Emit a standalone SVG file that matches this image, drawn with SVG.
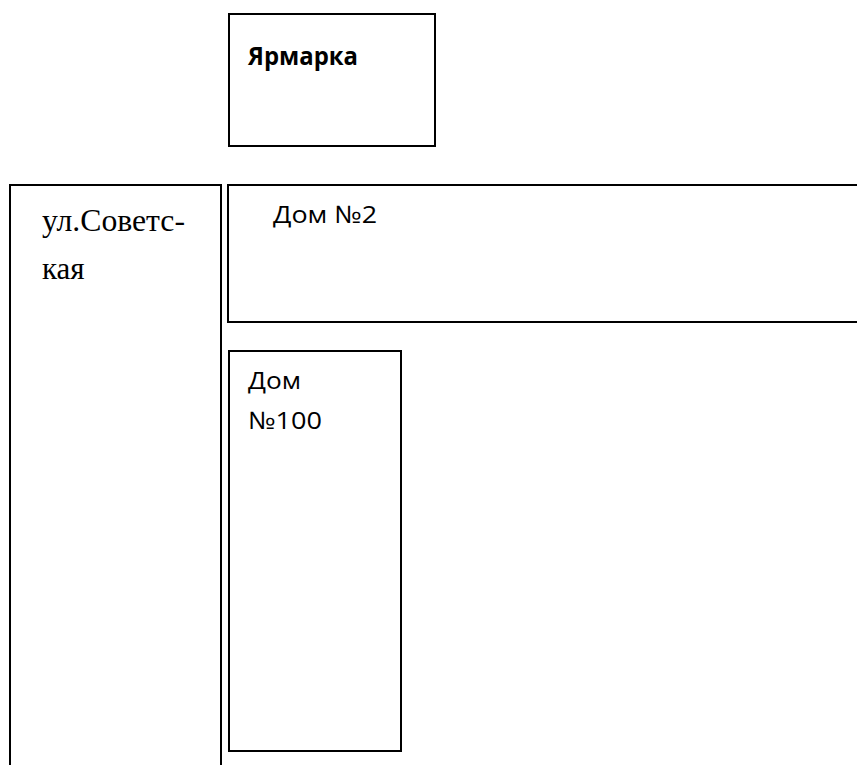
<svg xmlns="http://www.w3.org/2000/svg" width="857" height="765" viewBox="0 0 857 765">
<style>
.box{fill:#fff;stroke:#000;stroke-width:2}
.cal{font-family:"Open Sans","Noto Sans","Liberation Sans",sans-serif;fill:#000}
.tim{font-family:"Liberation Serif","DejaVu Serif",serif;fill:#000}
</style>
<rect x="0" y="0" width="857" height="765" fill="#fff"/>
<g id="yarmarka">
<rect class="box" x="229" y="14" width="206" height="132"/>
<text class="cal" x="248" y="65" font-size="25" font-weight="bold" textLength="110" lengthAdjust="spacingAndGlyphs">Ярмарка</text>
</g>
<g id="street">
<path class="box" d="M10,766 V185 H221 V766"/>
<text class="tim" x="42" y="231" font-size="31" textLength="143" lengthAdjust="spacingAndGlyphs">ул.Советс-</text>
<text class="tim" x="42" y="279" font-size="31">кая</text>
</g>
<g id="dom2">
<path class="box" d="M858,185 H228 V322 H858" stroke-width="2.5"/>
<text class="cal" x="273" y="223" font-size="24" textLength="104" lengthAdjust="spacingAndGlyphs">Дом №2</text>
</g>
<g id="dom100">
<rect class="box" x="229" y="351" width="172" height="400"/>
<text class="cal" x="248" y="389" font-size="24" textLength="53" lengthAdjust="spacingAndGlyphs">Дом</text>
<text class="cal" x="248" y="429" font-size="24" textLength="74" lengthAdjust="spacingAndGlyphs">№100</text>
</g>
<g id="connectors"/>
</svg>
